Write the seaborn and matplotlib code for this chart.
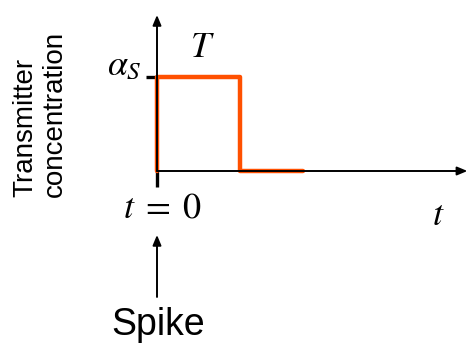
import numpy as np
import pandas as pd
import matplotlib
matplotlib.use('Agg')
import matplotlib.pyplot as plt
import seaborn as sns

# Pulse of transmitter: time in units of T, concentration in units of alpha_S
pulse_time = [0.0, 0.0, 1.0, 1.0, 1.76]
pulse_conc = [0.0, 1.0, 1.0, 0.0, 0.0]

ylabel_text = 'Transmitter\nconcentration'
alpha_label = r'$\alpha_S$'
T_label = r'$T$'
t0_label = r'$t\;=\;0$'
t_label = r'$t$'
spike_label = 'Spike'

PULSE_COLOR = '#ff5000'

# pixel scale of the drawing (figure is 470x347 px)
W, H = 470, 347
X0, Y0 = 157, 171          # origin in pixels from top-left
SX, SY = 83.0, 94.0        # pixels per unit


sns.set_style('white')
plt.rcParams['font.family'] = ['Liberation Sans', 'DejaVu Sans']
plt.rcParams['mathtext.fontset'] = 'stix'
plt.rcParams['text.color'] = 'black'

fig = plt.figure(figsize=(W / 100, H / 100), dpi=100)
ax = fig.add_axes([0, 0, 1, 1])
ax.set_xlim(-X0 / SX, (W - X0) / SX)
ax.set_ylim((Y0 - H) / SY, Y0 / SY)
ax.axis('off')

df = pd.DataFrame({'t': pulse_time, 'c': pulse_conc})

# axes with arrow heads
arrow = dict(arrowstyle='-|>,head_length=0.6,head_width=0.25', color='black', lw=1.4, shrinkA=0, shrinkB=0)
ax.annotate('', xy=(0, 1.66), xytext=(0, 0), arrowprops=arrow)
ax.annotate('', xy=(3.74, 0), xytext=(0, 0), arrowprops=arrow)

# ticks
ax.plot([0, 0], [0, -0.17], color='black', lw=2.4, solid_capstyle='butt')
ax.plot([-0.13, 0], [1.0, 1.0], color='black', lw=2.4, solid_capstyle='butt')

sns.lineplot(data=df, x='t', y='c', sort=False, estimator=None, color=PULSE_COLOR,
             linewidth=3.2, ax=ax)
ax.set_xlabel('')
ax.set_ylabel('')

# spike arrow
ax.annotate('', xy=(0, -0.68), xytext=(0, -1.34), arrowprops=arrow)

# labels
ax.text(0.55, 1.31, T_label, fontsize=26, ha='center', va='center')
ax.text(-0.18, 1.02, alpha_label, fontsize=26, ha='right', va='baseline')
ax.text(0.07, -0.49, t0_label, fontsize=26, ha='center', va='baseline')
ax.text(3.39, -0.57, t_label, fontsize=26, ha='center', va='baseline')
ax.text(0.01, -1.745, spike_label, fontsize=27, ha='center', va='baseline')
ax.text(-1.41, -0.277, ylabel_text, fontsize=20, rotation=90, ha='center', va='bottom',
        multialignment='left', linespacing=1.15)

fig.savefig('out.png', dpi=100)
